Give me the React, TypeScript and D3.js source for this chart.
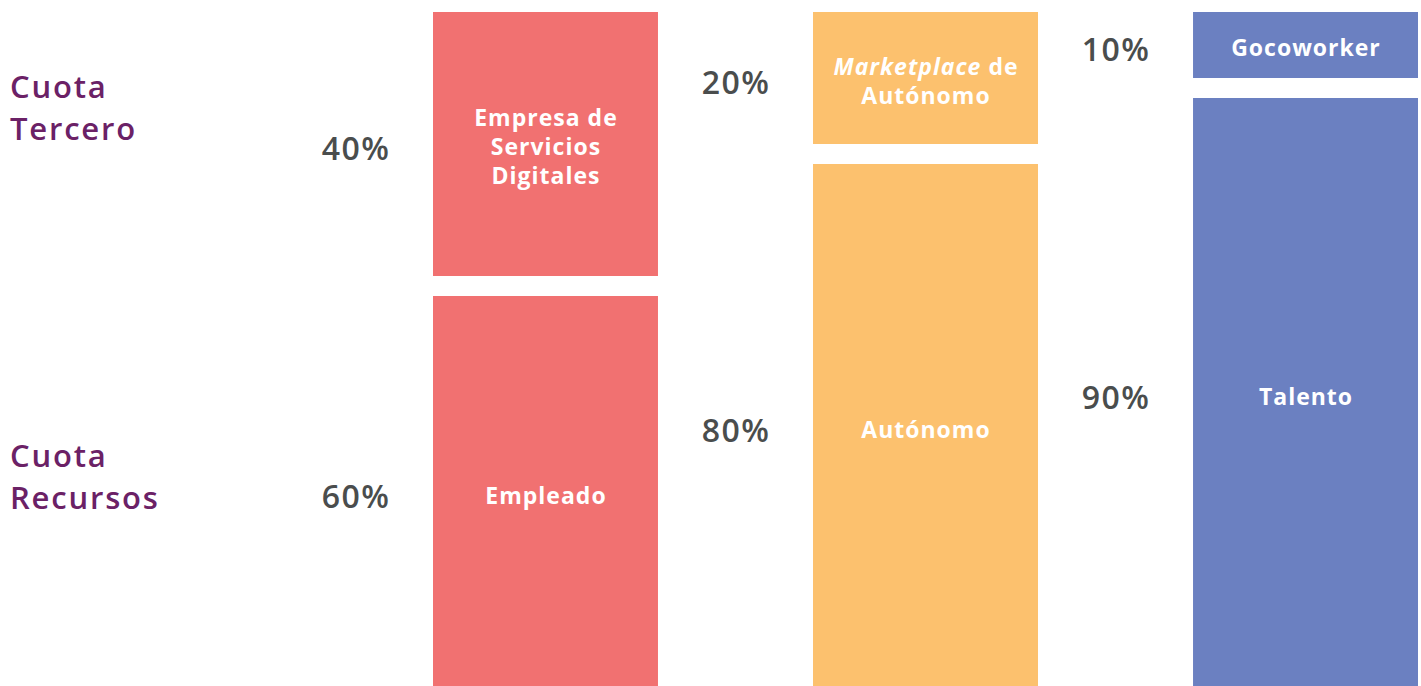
import React from "react";
import * as d3 from "d3";

const columns = ["Empresa", "Autónomo", "Gocoworker"];
const terceroValues = [40, 20, 10];
const recursosValues = [60, 80, 90];
const terceroLabels: string[][] = [
  ["Empresa de", "Servicios", "Digitales"],
  ["Marketplace de", "Autónomo"],
  ["Gocoworker"],
];
const recursosLabels = ["Empleado", "Autónomo", "Talento"];
const colors = ["#F17171", "#FCC16E", "#6B80C1"];
const rowTitles = [["Cuota", "Tercero"], ["Cuota", "Recursos"]];

const W = 1421;
const H = 686;
const FONT = "'Open Sans', 'DejaVu Sans', sans-serif";

export default function App() {
  const x = d3
    .scaleBand<number>()
    .domain(d3.range(columns.length))
    .range([433, 1418])
    .paddingInner(0.408)
    .paddingOuter(0);
  const y = d3.scaleLinear().domain([0, 100]).range([0, 660]);
  const top = 12;
  const gap = 20;

  return (
    <svg
      width={W}
      height={H}
      style={{ position: "absolute", left: 0, top: 0, background: "#fff" }}
      fontFamily={FONT}
    >
      {rowTitles.map((lines, r) => (
        <text key={r} x={10} fill="#6B2166" fontSize={31} fontWeight={600} letterSpacing={1.8}>
          {lines.map((l, i) => (
            <tspan key={i} x={10} y={(r === 0 ? 98 : 467) + i * 42}>
              {l}
            </tspan>
          ))}
        </text>
      ))}
      {columns.map((c, i) => {
        const bx = x(i)!;
        const bw = x.bandwidth();
        const h1 = y(terceroValues[i]);
        const h2 = y(recursosValues[i]);
        const y2 = top + h1 + gap;
        const c1 = top + h1 / 2;
        const c2 = y2 + h2 / 2;
        const lbl = terceroLabels[i];
        const cx = bx + bw / 2 + 0.5;
        return (
          <g key={c}>
            <rect x={bx} y={top} width={bw} height={h1} fill={colors[i]} />
            <rect x={bx} y={y2} width={bw} height={h2} fill={colors[i]} />
            <text x={bx - 77} y={c1 + 16} textAnchor="middle" fill="#4A4D4D" fontSize={32} fontWeight={600} letterSpacing={1.5}>
              {terceroValues[i]}%
            </text>
            <text x={bx - 77} y={c2 + 14} textAnchor="middle" fill="#4A4D4D" fontSize={32} fontWeight={600} letterSpacing={1.5}>
              {recursosValues[i]}%
            </text>
            <text textAnchor="middle" fill="#fff" fontSize={23} fontWeight={700} letterSpacing={1}>
              {lbl.map((l, j) => {
                const yy = c1 + 11 + (j - (lbl.length - 1) / 2) * 29;
                if (l.startsWith("Marketplace")) {
                  return (
                    <tspan key={j} x={cx} y={yy}>
                      <tspan fontStyle="italic">Marketplace</tspan>
                      <tspan> de</tspan>
                    </tspan>
                  );
                }
                return (
                  <tspan key={j} x={cx} y={yy}>
                    {l}
                  </tspan>
                );
              })}
            </text>
            <text x={cx} y={c2 + 10} textAnchor="middle" fill="#fff" fontSize={23} fontWeight={700} letterSpacing={1}>
              {recursosLabels[i]}
            </text>
          </g>
        );
      })}
    </svg>
  );
}
